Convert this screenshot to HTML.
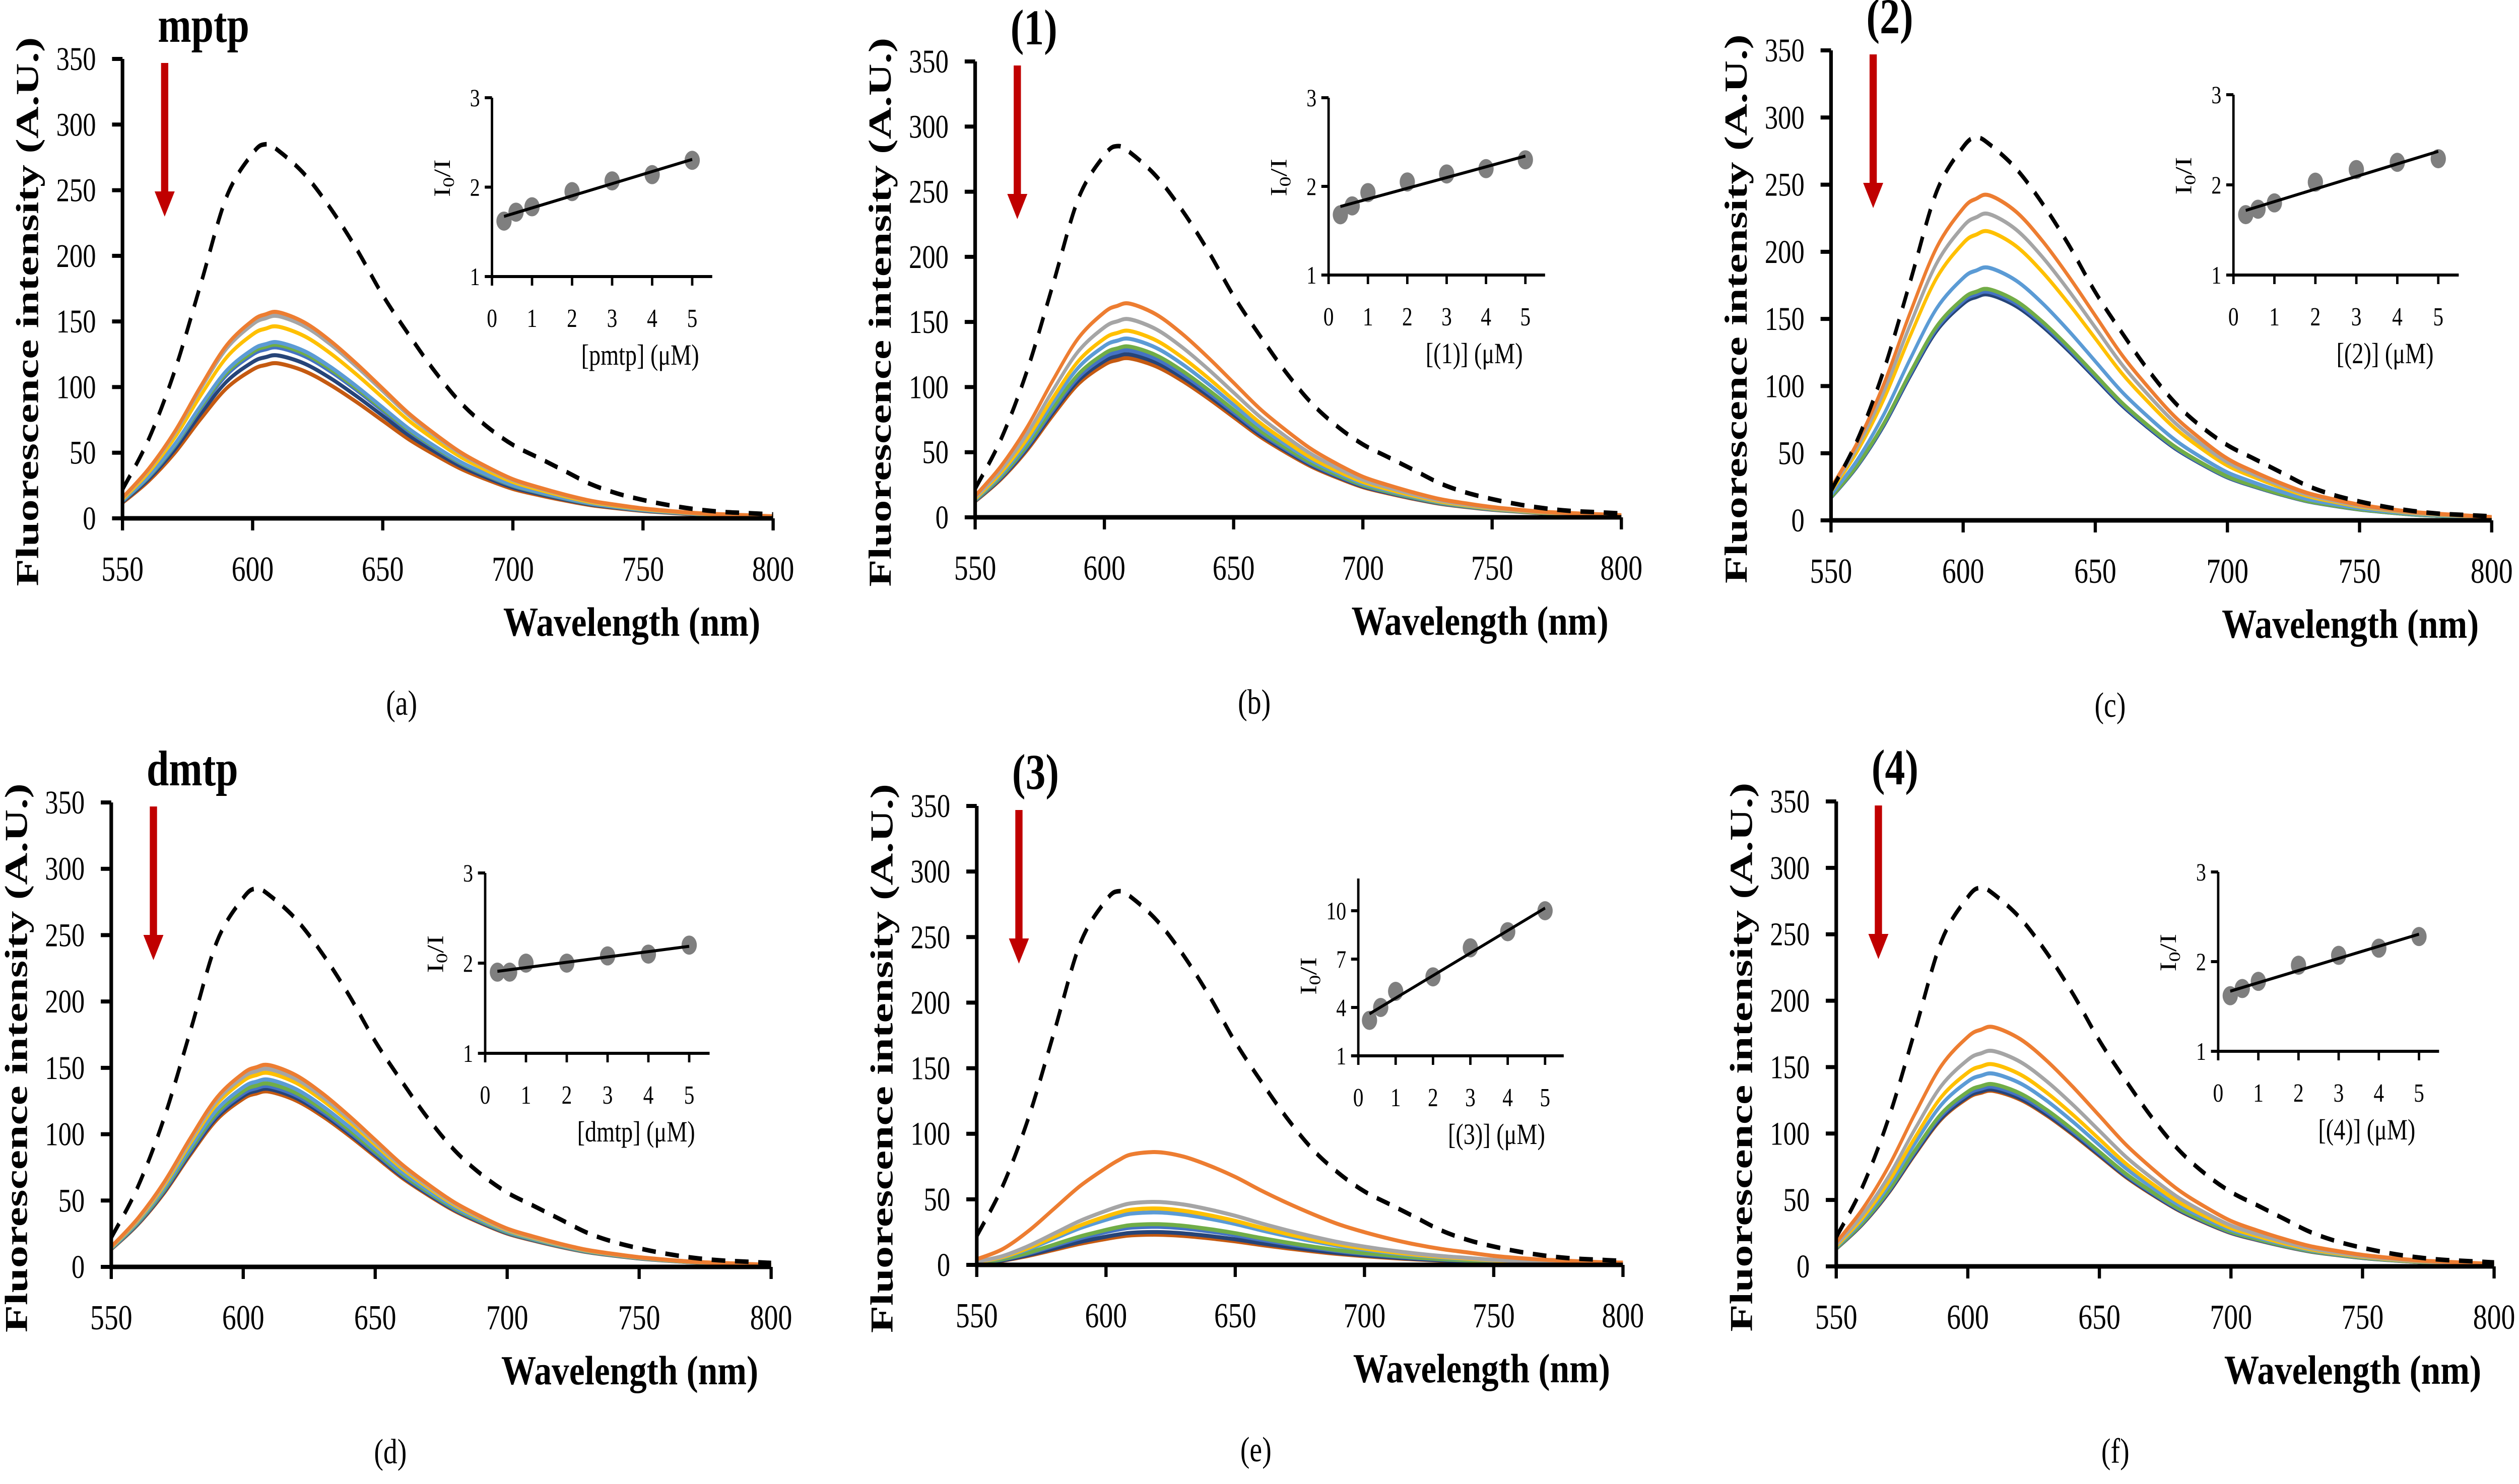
<!DOCTYPE html>
<html><head><meta charset="utf-8">
<style>
html,body{margin:0;padding:0;background:#fff;overflow:hidden;width:100%;height:100%;}
svg{display:block;width:100vw;height:100vh;}
text{font-family:"Liberation Serif",serif;fill:#000;}
</style></head>
<body>
<svg id="fig" viewBox="0 0 6272 2946" preserveAspectRatio="none" xmlns="http://www.w3.org/2000/svg"></svg>
<script>
// ---- data ----
const wavelengths = [550,560,570,580,590,600,605,610,620,630,640,650,660,670,680,690,700,710,720,730,740,750,760,770,780,790,800];
const controlCurve = [22,60,112,178,245,278,285,280,262,236,205,170,140,112,88,70,56,46,36,26,19,14,10,7,5,4,3];
const quenchShape  = [0.10,0.24,0.42,0.64,0.84,0.96,0.99,1.0,0.95,0.86,0.75,0.63,0.51,0.41,0.32,0.25,0.19,0.15,0.115,0.085,0.065,0.048,0.036,0.026,0.02,0.015,0.01];
const quenchShapeE = [0.05,0.14,0.30,0.50,0.70,0.86,0.93,0.98,1.0,0.96,0.88,0.78,0.66,0.55,0.45,0.36,0.29,0.23,0.18,0.14,0.11,0.08,0.06,0.045,0.035,0.025,0.02];
const seriesColors = ["#ed7d31","#a5a5a5","#ffc000","#5b9bd5","#70ad47","#4472c4","#264478","#c55a11"];
const peaksA = [157,154,146,134,132,130,124,118];
const peaksB = [164,152,143,137,131,128,125,122];
const peaksC = [242,228,215,188,172,170,168,172];
const peaksD = [152,149,146,141,138,136,134,132];
const peaksE = [86,48,43,40,31,29,25,23];
const peaksF = [180,162,152,145,137,135,133,132];
const insetConc = [0.3,0.6,1,2,3,4,5];
const insetA = [1.62,1.72,1.78,1.95,2.07,2.14,2.30];
const insetB = [1.68,1.78,1.93,2.05,2.14,2.20,2.30];
const insetC = [1.67,1.73,1.80,2.03,2.17,2.25,2.29];
const insetD = [1.90,1.90,2.00,2.00,2.08,2.10,2.20];
const insetE = [3.2,4.0,5.0,5.9,7.7,8.7,10.0];
const insetF = [1.62,1.70,1.78,1.96,2.07,2.15,2.28];
const yTicks = [0,50,100,150,200,250,300,350];
const xTicks = [550,600,650,700,750,800];
const insetXTicks = [0,1,2,3,4,5];
const insetYTicks = [1,2,3];
const insetYTicksE = [1,4,7,10];

// ---- layout ----
const panels = [
 {id:'a',x0:305,x1:1925,yt:117,yb:1029,ix:1225,iy1:549,iyT:194,unit:99.7,name:'mptp',xl:'[pmtp] (\u03bcM)',peaks:peaksA,ins:insetA,shape:quenchShape,yTicksI:insetYTicks,imin:1,imax:3,iTopVal:3},
 {id:'b',x0:2428,x1:4037,yt:122,yb:1027,ix:3308,iy1:546,iyT:194,unit:98,name:'(1)',xl:'[(1)] (\u03bcM)',peaks:peaksB,ins:insetB,shape:quenchShape,yTicksI:insetYTicks,imin:1,imax:3,iTopVal:3},
 {id:'c',x0:4559,x1:6204,yt:100,yb:1033,ix:5561,iy1:546,iyT:188,unit:102,name:'(2)',xl:'[(2)] (\u03bcM)',peaks:peaksC,ins:insetC,shape:quenchShape,yTicksI:insetYTicks,imin:1,imax:3,iTopVal:3},
 {id:'d',x0:277,x1:1920,yt:1593,yb:2515,ix:1208,iy1:2091,iyT:1733,unit:101.6,name:'dmtp',xl:'[dmtp] (\u03bcM)',peaks:peaksD,ins:insetD,shape:quenchShape,yTicksI:insetYTicks,imin:1,imax:3,iTopVal:3},
 {id:'e',x0:2432,x1:4041,yt:1600,yb:2511,ix:3382,iy1:2096,iyT:1808,unit:93,name:'(3)',xl:'[(3)] (\u03bcM)',peaks:peaksE,ins:insetE,shape:quenchShapeE,yTicksI:insetYTicksE,imin:1,imax:12,iTopVal:10},
 {id:'f',x0:4572,x1:6210,yt:1591,yb:2514,ix:5523,iy1:2087,iyT:1731,unit:100,name:'(4)',xl:'[(4)] (\u03bcM)',peaks:peaksF,ins:insetF,shape:quenchShape,yTicksI:insetYTicks,imin:1,imax:3,iTopVal:3}
];
const NS='http://www.w3.org/2000/svg';
const fig=document.getElementById('fig');
function mk(tag,attrs,parent){const e=document.createElementNS(NS,tag);for(const k in attrs)e.setAttribute(k,attrs[k]);(parent||fig).appendChild(e);return e;}
function smooth(pts){let d='M'+pts[0][0].toFixed(1)+','+pts[0][1].toFixed(1);
 for(let i=0;i<pts.length-1;i++){const p0=pts[Math.max(0,i-1)],p1=pts[i],p2=pts[i+1],p3=pts[Math.min(pts.length-1,i+2)];
  const c1x=p1[0]+(p2[0]-p0[0])/6,c1y=p1[1]+(p2[1]-p0[1])/6,c2x=p2[0]-(p3[0]-p1[0])/6,c2y=p2[1]-(p3[1]-p1[1])/6;
  d+=' C'+c1x.toFixed(1)+','+c1y.toFixed(1)+' '+c2x.toFixed(1)+','+c2y.toFixed(1)+' '+p2[0].toFixed(1)+','+p2[1].toFixed(1);}
 return d;}

panels.forEach(P=>{
 const g=mk('g',{});
 
 
 const X=w=>P.x0+(w-550)/250*(P.x1-P.x0);
 const Y=v=>P.yb-v/350*(P.yb-P.yt);
 for(let s=P.peaks.length-1;s>=0;s--){
  const pts=wavelengths.map((w,i)=>[X(w),Y(P.peaks[s]*P.shape[i])]);
  const p=mk('path',{d:smooth(pts),fill:'none',stroke:seriesColors[s],'stroke-width':8,'stroke-linejoin':'round'},g);
  
  
 }
 const cp=mk('path',{d:smooth(wavelengths.map((w,i)=>[X(w),Y(controlCurve[i])])),fill:'none',stroke:'#000','stroke-width':9,'stroke-dasharray':'34 24'},g);
 
 
 const ax=mk('path',{d:`M${P.x0},${P.yt} V${P.yb} H${P.x1}`,fill:'none',stroke:'#000','stroke-width':9},g);
 
 
 yTicks.forEach(t=>{
  mk('line',{x1:P.x0-26,x2:P.x0,y1:Y(t),y2:Y(t),stroke:'#000','stroke-width':8},g);
  const tx=mk('text',{x:P.x0-66,y:Y(t)+22,'font-size':66,'text-anchor':'end'},g);tx.textContent=t;
  
  
 });
 xTicks.forEach(t=>{
  mk('line',{x1:X(t),x2:X(t),y1:P.yb,y2:P.yb+24,stroke:'#000','stroke-width':8},g);
  const tx=mk('text',{x:X(t),y:P.yb+124,'font-size':70,'text-anchor':'middle'},g);tx.textContent=t;
  
  
 });
 const xt=mk('text',{x:P.x1-32,y:P.yb+233,'font-size':82,'font-weight':'bold','text-anchor':'end',textLength:640,lengthAdjust:'spacingAndGlyphs'},g);
 xt.textContent='Wavelength (nm)';
 
 
 const cy=(P.yt+P.yb)/2+(P.yb-P.yt)*0.05;
 const yx=P.x0-210;
 const yt=mk('text',{x:yx,y:cy,'font-size':80,'font-weight':'bold','text-anchor':'middle',transform:`rotate(-90 ${yx} ${cy})`,textLength:1090,lengthAdjust:'spacingAndGlyphs'},g);
 yt.textContent='Fluorescence  intensity  (A.U.)';
 
 
 const nm=mk('text',{x:P.x0+88,y:P.yt-34,'font-size':100,'font-weight':'bold'},g);nm.textContent=P.name;
 
 
 const ar=mk('path',{d:`M${P.x0+96},${P.yt+8} h18 v255 h16 l-25,50 l-25,-50 h16 z`,fill:'#c00000'},g);
 
 
 const cap=mk('text',{x:P.x0+695,y:P.yb+390,'font-size':70,'text-anchor':'middle'},g);cap.textContent='('+P.id+')';
 
 
 const perUnitY=(P.iy1-P.iyT)/(P.iTopVal-P.imin);
 const IY=v=>P.iy1-(v-P.imin)*perUnitY;
 const IX=c=>P.ix+c*P.unit;
 const topY=IY(P.imax);
 const iax=mk('path',{d:`M${P.ix},${topY} V${P.iy1} H${P.ix+5.5*P.unit}`,fill:'none',stroke:'#000','stroke-width':6},g);
 
 
 P.yTicksI.forEach(t=>{
  mk('line',{x1:P.ix-18,x2:P.ix,y1:IY(t),y2:IY(t),stroke:'#000','stroke-width':6},g);
  const tx=mk('text',{x:P.ix-30,y:IY(t)+17,'font-size':50,'text-anchor':'end'},g);tx.textContent=t;
  
  
 });
 insetXTicks.forEach(t=>{
  mk('line',{x1:IX(t),x2:IX(t),y1:P.iy1,y2:P.iy1+18,stroke:'#000','stroke-width':6},g);
  const tx=mk('text',{x:IX(t),y:P.iy1+100,'font-size':52,'text-anchor':'middle'},g);tx.textContent=t;
  
  
 });
 const ixl=mk('text',{x:IX(3.7),y:P.iy1+175,'font-size':58,'text-anchor':'middle'},g);ixl.textContent=P.xl;
 
 
 const lcx=P.ix-105,lcy=(P.iy1+P.iyT)/2-(P.iy1-P.iyT)*0.05;
 const iyl=mk('text',{x:lcx,y:lcy,'font-size':58,'text-anchor':'middle',transform:`rotate(-90 ${lcx} ${lcy})`},g);
 iyl.innerHTML='I<tspan font-size="40" dy="10">0</tspan><tspan dy="-10">/I</tspan>';
 
 
 const n=insetConc.length;let sx=0,sy=0,sxx=0,sxy=0;
 for(let i=0;i<n;i++){sx+=insetConc[i];sy+=P.ins[i];sxx+=insetConc[i]**2;sxy+=insetConc[i]*P.ins[i];}
 const m=(n*sxy-sx*sy)/(n*sxx-sx*sx),b=(sy-m*sx)/n;
 insetConc.forEach((c,i)=>{
  const pt=mk('circle',{cx:IX(c),cy:IY(P.ins[i]),r:19,fill:'#7f7f7f'},g);
  
  
 });
 const fl=mk('line',{x1:IX(0.3),y1:IY(m*0.3+b),x2:IX(5),y2:IY(m*5+b),stroke:'#000','stroke-width':6},g);
 
 
});
</script>
</body></html>
